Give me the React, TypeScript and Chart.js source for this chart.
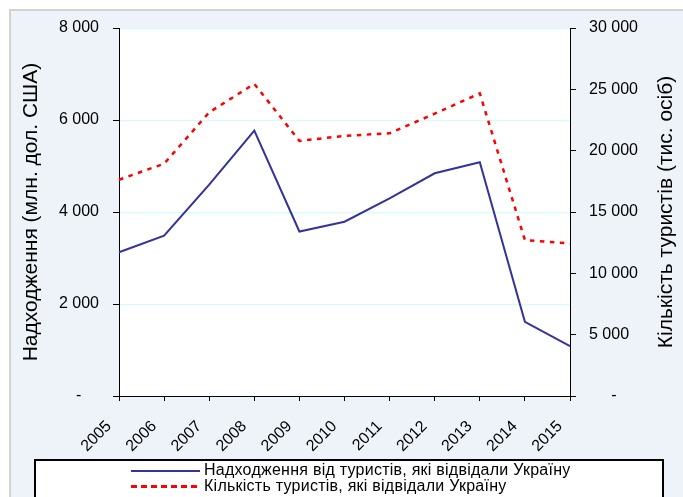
import React, { useEffect, useRef } from 'react';
import { Chart, registerables } from 'chart.js';

Chart.register(...registerables);

const years = ['2005', '2006', '2007', '2008', '2009', '2010', '2011', '2012', '2013', '2014', '2015'];
const receipts = [3125, 3485, 4597, 5768, 3576, 3788, 4294, 4842, 5083, 1612, 1082];
const tourists = [17631, 18936, 23122, 25449, 20798, 21203, 21415, 23013, 24671, 12712, 12428];
const receiptsLabel = 'Надходження від туристів, які відвідали Україну';
const touristsLabel = 'Кількість туристів, які відвідали Україну';
const leftTitle = 'Надходження (млн. дол. США)';
const rightTitle = 'Кількість туристів (тис. осіб)';
const leftMax = 8000;
const leftStep = 2000;
const rightMax = 30000;
const rightStep = 5000;

const FONT = 'Arial, "Liberation Sans", sans-serif';

const group = (v: number) => String(v).replace(/\B(?=(\d{3})+(?!\d))/g, ' ');

const bgPlugin = {
  id: 'bgPlugin',
  beforeDraw(chart: any) {
    const { ctx, chartArea } = chart;
    ctx.save();
    ctx.fillStyle = '#ffffff';
    ctx.fillRect(0, 0, 683, 497);
    ctx.fillStyle = '#EEF3FA';
    ctx.fillRect(11, 11, 672, 486);
    ctx.strokeStyle = '#D2D2D2';
    ctx.lineWidth = 2;
    ctx.beginPath();
    ctx.moveTo(10, 497);
    ctx.lineTo(10, 10);
    ctx.lineTo(683, 10);
    ctx.stroke();
    ctx.fillStyle = '#ffffff';
    ctx.fillRect(chartArea.left, chartArea.top, chartArea.right - chartArea.left, chartArea.bottom - chartArea.top);
    ctx.restore();
  },
};

const legendPlugin = {
  id: 'boxLegend',
  afterDraw(chart: any) {
    const { ctx, chartArea } = chart;
    ctx.save();
    // right axis title, reading bottom-to-top
    ctx.save();
    ctx.translate(666, (chartArea.top + chartArea.bottom) / 2);
    ctx.rotate(-Math.PI / 2);
    ctx.fillStyle = '#000000';
    ctx.font = `21px ${FONT}`;
    ctx.textAlign = 'center';
    ctx.textBaseline = 'middle';
    ctx.fillText(rightTitle, 0, 0);
    ctx.restore();

    ctx.fillStyle = '#ffffff';
    ctx.fillRect(35, 460, 628, 40);
    ctx.strokeStyle = '#000000';
    ctx.lineWidth = 2;
    ctx.strokeRect(35, 460, 628, 60);
    chart.data.datasets.forEach((ds: any, i: number) => {
      const y = 471 + i * 15.5;
      ctx.beginPath();
      ctx.setLineDash(ds.borderDash ? [6, 4] : []);
      ctx.strokeStyle = ds.borderColor;
      ctx.lineWidth = ds.borderDash ? 3 : 2;
      ctx.moveTo(131, y);
      ctx.lineTo(200, y);
      ctx.stroke();
      ctx.setLineDash([]);
      ctx.fillStyle = '#000000';
      ctx.font = `16px ${FONT}`;
      try {
        (ctx as any).letterSpacing = '0.25px';
      } catch (e) {}
      ctx.textBaseline = 'middle';
      ctx.textAlign = 'left';
      ctx.fillText(ds.label, 204, y);
      try {
        (ctx as any).letterSpacing = '0px';
      } catch (e) {}
    });
    ctx.restore();
  },
};

export default function App() {
  const ref = useRef<HTMLCanvasElement>(null);

  useEffect(() => {
    const chart = new Chart(ref.current as HTMLCanvasElement, {
      type: 'line',
      data: {
        labels: years,
        datasets: [
          {
            label: receiptsLabel,
            data: receipts,
            borderColor: '#333399',
            backgroundColor: '#333399',
            borderWidth: 2,
            pointRadius: 0,
            tension: 0,
            yAxisID: 'y',
          },
          {
            label: touristsLabel,
            data: tourists,
            borderColor: '#FF0000',
            backgroundColor: '#FF0000',
            borderWidth: 2.5,
            borderDash: [4.5, 5.5],
            pointRadius: 0,
            tension: 0,
            yAxisID: 'y1',
          },
        ],
      },
      options: {
        responsive: false,
        animation: false,
        layout: { padding: { top: 28, left: 0, right: 0, bottom: 0 } },
        plugins: {
          legend: { display: false },
          tooltip: { enabled: false },
        },
        scales: {
          x: {
            type: 'category',
            offset: false,
            grid: { drawOnChartArea: false, drawTicks: true, tickLength: 5, tickColor: '#000000' },
            border: { color: '#000000', width: 1 },
            ticks: {
              color: '#000000',
              font: { family: FONT, size: 16 },
              minRotation: 45,
              maxRotation: 45,
              autoSkip: false,
              padding: 16,
              labelOffset: -10,
            },
            afterFit: (s: any) => {
              s.height = 101;
            },
          },
          y: {
            position: 'left',
            min: 0,
            max: leftMax,
            grid: {
              color: (c: any) => (c.tick && c.tick.value === 0 ? 'rgba(0,0,0,0)' : '#CCFFFF'),
              tickColor: '#000000',
              tickLength: 6,
              lineWidth: 1,
            },
            border: { color: '#000000', width: 1 },
            ticks: {
              stepSize: leftStep,
              color: '#000000',
              font: { family: FONT, size: 16 },
              padding: 14,
              callback: (v: any) => (Number(v) === 0 ? '-    ' : group(Number(v))),
            },
            title: {
              display: true,
              text: leftTitle,
              color: '#000000',
              font: { family: FONT, size: 21 },
              padding: { top: 19, bottom: 0 },
            },
            afterFit: (s: any) => {
              s.width = 119;
            },
          },
          y1: {
            position: 'right',
            min: 0,
            max: rightMax,
            grid: { drawOnChartArea: false, tickColor: '#000000', tickLength: 6 },
            border: { color: '#000000', width: 1 },
            ticks: {
              stepSize: rightStep,
              color: '#000000',
              font: { family: FONT, size: 16 },
              padding: 13,
              callback: (v: any) => (Number(v) === 0 ? '     -' : group(Number(v))),
            },
            afterFit: (s: any) => {
              s.width = 113;
            },
          },
        },
      },
      plugins: [bgPlugin, legendPlugin],
    } as any);
    return () => chart.destroy();
  }, []);

  return (
    <div style={{ position: 'absolute', left: 0, top: 0, width: 683, height: 497 }}>
      <canvas ref={ref} width={683} height={497} style={{ display: 'block' }} />
    </div>
  );
}
